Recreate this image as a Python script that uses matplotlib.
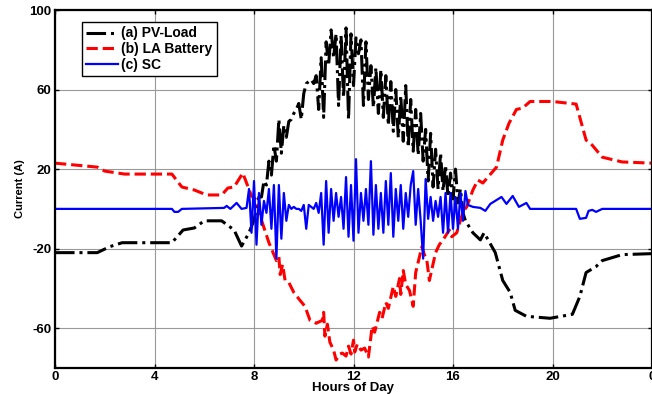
import numpy as np
import matplotlib
matplotlib.use("Agg")
import matplotlib.pyplot as plt

# ---------------- data ----------------
# (a) PV-Load (black dash-dot)
pv_t_pre = [0, 1.7, 2.2, 2.7, 4.7, 5.15, 5.6, 6.0, 6.7, 7.2, 7.5, 7.8, 8.0, 8.2]
pv_v_pre = [-22, -22, -19, -17, -17, -10.6, -9.6, -6, -6, -10.6, -18.7, -12, -5.6, 6]
pv_t_mid_start, pv_t_mid_step = 8.3, 0.1
pv_v_mid = [6, 14, 12, 24, 17, 32, 24, 45, 28, 42, 36, 44, 45, 48, 50, 53, 45, 58,
            63, 64, 65, 63, 67, 50, 76, 46, 84, 72, 90, 76, 88, 52, 87, 56, 91, 45,
            88, 62, 86, 78, 85, 52, 84, 55, 72, 51, 71, 48, 70, 46, 67, 42, 64, 39,
            60, 36, 57, 34, 62, 31, 55, 29, 50, 27, 48, 24, 40, 14, 38, 11, 30, 10,
            28, 9, 22, 6, 18, 5, 20, 3, 10, -2, -6]
pv_t_post = [16.8, 17.1, 17.25, 17.7, 18.0, 18.3, 18.5, 18.95, 19.9, 20.8, 21.1,
             21.35, 21.75, 22.0, 22.8, 24]
pv_v_post = [-12, -15.6, -12, -22, -36, -42, -51, -54, -55, -53, -44, -32, -29, -26,
             -23, -22.5]

# (b) LA Battery (red dashed)
la_t = [0, 1.7, 2.0, 2.8, 4.7, 5.1, 5.6, 6.1, 6.7, 6.95, 7.2, 7.55, 7.9, 8.1, 8.3,
        8.6, 8.9, 9.0, 9.05, 9.15, 9.25, 9.4, 9.6, 9.85, 10.05, 10.25, 10.5, 10.75,
        10.8, 10.85, 10.95, 11.05, 11.2, 11.3, 11.45, 11.55, 11.7, 11.8, 11.9, 12.0,
        12.05, 12.15, 12.3, 12.45, 12.6, 12.75, 12.85, 13.05, 13.15, 13.3, 13.4,
        13.6, 13.7, 13.85, 13.9, 14.0, 14.1, 14.25, 14.4, 14.5, 14.75, 14.85, 14.95,
        15.05, 15.3, 15.45, 15.6, 15.85, 15.95, 16.15, 16.4, 16.55, 16.8, 17.0,
        17.2, 17.75, 18.0, 18.25, 18.55, 18.8, 19.1, 20.0, 20.95, 21.35, 21.6,
        22.0, 22.8, 24]
la_v = [23, 21, 19, 17.5, 17.5, 11, 9.5, 7, 7, 10.5, 11, 18, 6.5, 4.5, -5.6,
        -17, -26, -24, -33, -28, -36, -37, -42, -46, -49, -56, -57.5, -56,
        -52, -64, -58, -67, -71, -76, -73, -72.5, -74, -69, -73, -66,
        -72, -68, -71, -70, -74.5, -59, -62, -52, -55, -47, -50,
        -39, -44, -35, -43, -31, -38, -41, -49, -32, -19, -23, -26,
        -36, -22, -18, -15.6, -10.6, -14, -12, -1.5, 1, 9.5, 14.5,
        13, 21, 34.6, 43, 50, 50.7, 54, 54, 52.7, 34.6, 32,
        26, 23.6, 23]

# (c) SC (blue solid)
sc_t_pre = [0, 4.7, 4.8, 4.95, 5.1, 6.8, 6.9, 7.05, 7.3, 7.5, 7.7]
sc_v_pre = [0, 0, -1.5, -1.5, 0, 0.5, 1.5, 0, 3, 0, 0.5]
sc_t_mid_start, sc_t_mid_step = 7.8, 0.1
sc_v_mid = [10, -12, 14, -18, 8, -8, 4, -2, 10, -10, 12, -25, 12, -15, 8, -6, 2, 0,
            1, 0, 0, -1, 2, -10, 2, 1, 0, 3, -2, 8, -18, 14, -12, 10, -6, 8, -4, 6,
            -10, 16, -14, 12, -16, 25, -12, 8, -6, 10, -8, 24, -13, 12, -10, 8, -12,
            14, -8, 18, -14, 10, -6, 12, -10, 8, -4, 12, 19, -8, 10, -6, -25, 15, -5,
            6, -6, 4, -4, 6, -12, 8, -12, 8, -10, 6, -10, 8, -6, 9, 2]
sc_t_post = [16.8, 17.1, 17.3, 17.5, 17.95, 18.15, 18.4, 18.65, 18.95, 19.1, 20.95,
             21.1, 21.35, 21.45, 21.6, 21.75, 22.0, 24]
sc_v_post = [1, 0.5, -1, 2.5, 6, 2.5, 6.5, 1, 3, 0, 0, -5, -4.5, -1, -0.5, -1.5, 0, 0]

x_ticks = [0, 4, 8, 12, 16, 20, 24]
x_tick_labels = ['0', '4', '8', '12', '16', '20', '0']
y_ticks = [-60, -20, 20, 60, 100]

# ---------------- assemble ----------------
pv_t_mid = pv_t_mid_start + pv_t_mid_step * np.arange(len(pv_v_mid))
pv_t = np.concatenate([pv_t_pre, pv_t_mid, pv_t_post])
pv_v = np.concatenate([pv_v_pre, pv_v_mid, pv_v_post])

sc_t_mid = sc_t_mid_start + sc_t_mid_step * np.arange(len(sc_v_mid))
sc_t = np.concatenate([sc_t_pre, sc_t_mid, sc_t_post])
sc_v = np.concatenate([sc_v_pre, sc_v_mid, sc_v_post])

plt.rcParams['font.family'] = ['Liberation Sans', 'DejaVu Sans']

fig = plt.figure(figsize=(6.52, 3.94), dpi=100)
ax = fig.add_axes([55/652, 1 - 368/394, 1 - 55/652, (368 - 10)/394])

ax.plot(pv_t, pv_v, color='black', ls='-.', lw=2.2, label='(a) PV-Load')
ax.plot(la_t, la_v, color='red', ls='--', lw=2.2, label='(b) LA Battery')
ax.plot(sc_t, sc_v, color='blue', ls='-', lw=1.6, label='(c) SC')

ax.set_xlim(0, 24)
ax.set_ylim(-80, 100)
ax.set_xticks(x_ticks)
ax.set_yticks(y_ticks)
ax.set_xticklabels(x_tick_labels, fontweight='bold', fontsize=9.5)
ax.set_yticklabels([str(t) for t in y_ticks], fontweight='bold', fontsize=9.5)
ax.tick_params(direction='in', length=3, width=1, top=True, right=True, pad=2.5)
ax.grid(True, color='#999999', lw=0.8)
for s in ax.spines.values():
    s.set_linewidth(1.6)

ax.set_xlabel('Hours of Day', fontweight='bold', fontsize=9.5, labelpad=-1)
ax.set_ylabel('Current (A)', fontweight='bold', fontsize=8, labelpad=3)

leg = ax.legend(loc='upper left', bbox_to_anchor=(0.033, 0.985),
                prop={'weight': 'bold', 'size': 10}, handlelength=2.3,
                handletextpad=0.25, borderpad=0.3, labelspacing=0.12,
                fancybox=False, framealpha=1, edgecolor='black')
leg.get_frame().set_linewidth(1.0)

fig.savefig('out.png', dpi=100)
